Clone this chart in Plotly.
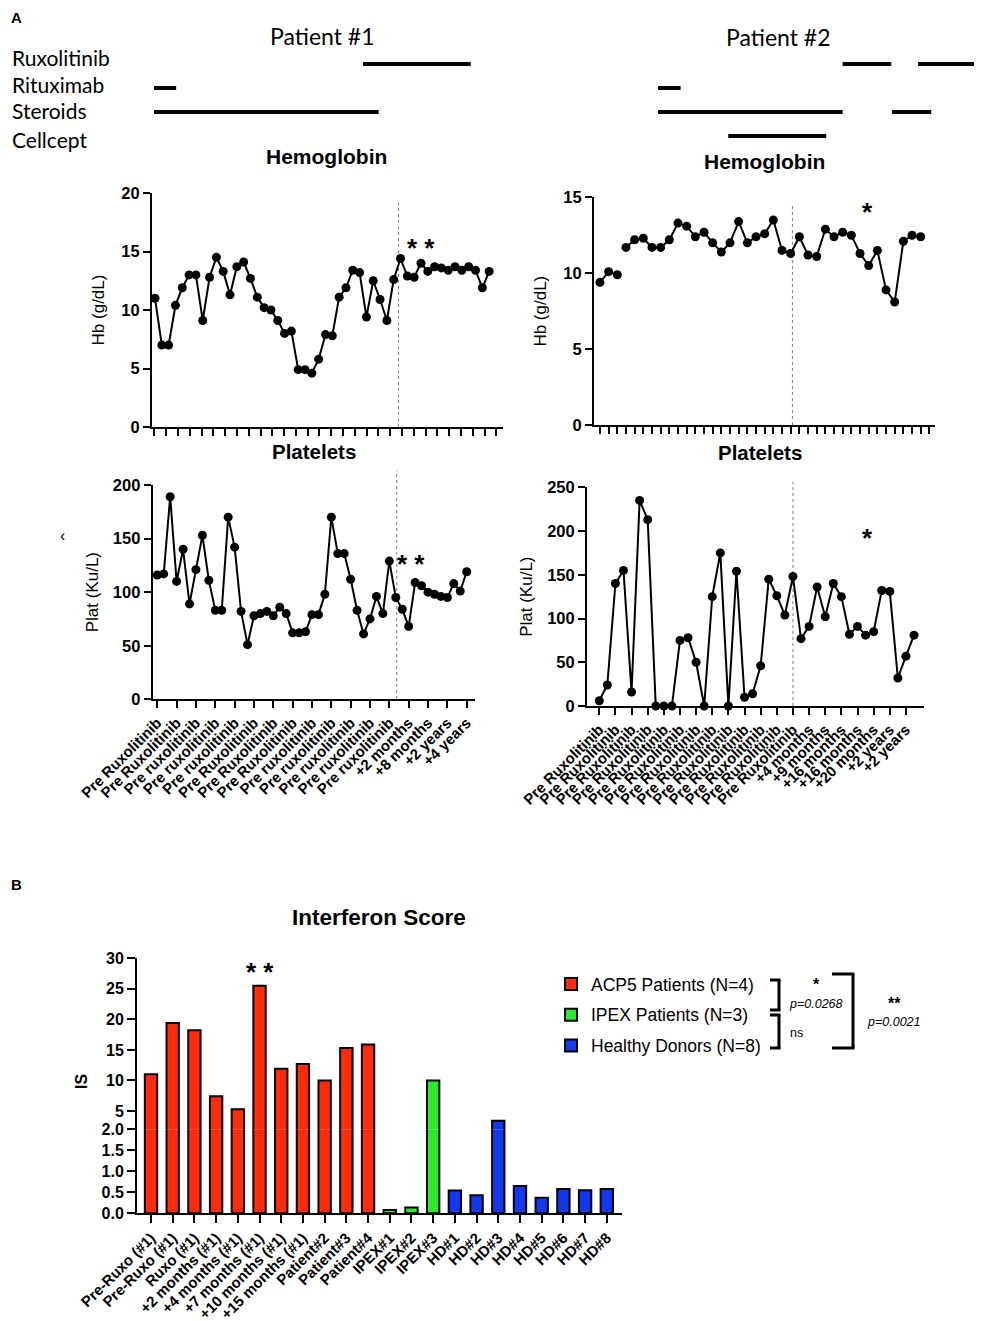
import plotly.graph_objects as go

# ---------------- data ----------------
treatments = ["Cellcept", "Steroids", "Rituximab", "Ruxolitinib"]

# treatment periods, in visit-index units of each patient's haemoglobin chart
p1_treat_drug = ["Ruxolitinib", "Rituximab", "Steroids"]
p1_treat_start = [30.5, -0.15, -0.15]
p1_treat_end = [46.3, 3.1, 32.8]

p2_treat_drug = ["Ruxolitinib", "Ruxolitinib", "Rituximab", "Steroids", "Steroids", "Cellcept"]
p2_treat_start = [28.0, 36.7, 6.7, 6.7, 33.7, 14.8]
p2_treat_end = [33.6, 44.0, 9.3, 28.0, 38.2, 26.1]

hb_p1 = [11.0, 7.0, 7.0, 10.4, 11.9, 13.0, 13.0, 9.1, 12.8, 14.5,
         13.3, 11.3, 13.7, 14.1, 12.7, 11.1, 10.2, 10.0, 9.1, 8.0,
         8.2, 4.9, 4.9, 4.6, 5.8, 7.9, 7.8, 11.1, 11.9, 13.4,
         13.2, 9.4, 12.5, 10.9, 9.1, 12.6, 14.4, 12.9, 12.8, 14.0,
         13.3, 13.7, 13.6, 13.4, 13.7, 13.4, 13.7, 13.4, 11.9, 13.3]
hb_p1_rux_start = 35.7

plat_p1 = [116, 117, 189, 110, 140, 89, 121, 153, 111, 83,
           83, 170, 142, 82, 51, 78, 80, 82, 78, 86,
           80, 62, 62, 63, 79, 79, 98, 170, 136, 136,
           112, 83, 61, 75, 96, 80, 129, 95, 84, 68,
           109, 106, 100, 98, 96, 95, 108, 101, 119]
plat_p1_rux_start = 37.15
plat_p1_tick_step = 3
plat_p1_labels = ["Pre Ruxolitinib", "Pre Ruxolitinib", "Pre ruxolitinib", "Pre ruxolitinib",
                  "Pre ruxolitinib", "Pre Ruxolitinib", "Pre Ruxolitinib", "Pre Ruxolitinib",
                  "Pre ruxolitinib", "Pre ruxolitinib", "Pre ruxolitinib", "Pre ruxolitinib",
                  "Pre ruxolitinib", "+2 months", "+8 months", "+2 years", "+4 years"]

hb_p2 = [9.4, 10.1, 9.9, 11.7, 12.2, 12.3, 11.7, 11.7, 12.2, 13.3,
         13.1, 12.4, 12.7, 12.0, 11.4, 12.0, 13.4, 12.0, 12.4, 12.6,
         13.5, 11.5, 11.3, 12.4, 11.2, 11.1, 12.9, 12.4, 12.7, 12.5,
         11.3, 10.5, 11.5, 8.9, 8.1, 12.1, 12.5, 12.4]
hb_p2_gap_after = 2
hb_p2_rux_start = 22.2

plat_p2 = [6, 24, 140, 155, 16, 235, 213, 0, 0, 0,
           75, 78, 50, 0, 125, 175, 0, 154, 10, 14,
           46, 145, 126, 104, 148, 77, 91, 136, 102, 140,
           125, 82, 91, 81, 85, 132, 131, 32, 57, 81]
plat_p2_rux_start = 24
plat_p2_tick_step = 2
plat_p2_labels = ["Pre Ruxolitinib"] * 13 + ["+4 months", "+9 months", "+16 months", "+16 months",
                                             "+20 months", "+2 years", "+2 years"]

ifn_labels = ["Pre-Ruxo (#1)", "Pre-Ruxo (#1)", "Ruxo (#1)", "+2 months (#1)", "+4 months (#1)",
              "+7 months (#1)", "+10 months (#1)", "+15 months (#1)", "Patient#2", "Patient#3",
              "Patient#4", "IPEX#1", "IPEX#2", "IPEX#3", "HD#1", "HD#2", "HD#3", "HD#4",
              "HD#5", "HD#6", "HD#7", "HD#8"]
ifn_values = [11.0, 19.4, 18.2, 7.4, 5.3, 25.5, 11.9, 12.7, 10.0, 15.3,
              15.9, 0.08, 0.14, 10.0, 0.54, 0.43, 3.4, 0.65, 0.37, 0.58, 0.55, 0.58]
ifn_group = ["ACP5"] * 11 + ["IPEX"] * 3 + ["HD"] * 8
group_names = {"ACP5": "ACP5 Patients (N=4)", "IPEX": "IPEX Patients (N=3)", "HD": "Healthy Donors (N=8)"}
group_colors = {"ACP5": "#FF2B0A", "IPEX": "#2EE82E", "HD": "#1238F0"}
ifn_break = 2.0

# ---------------- layout helpers ----------------
# the page body has an 8px margin, so the figure is placed 8px in from the top-left corner
OFF = 8
W, H = 982 - OFF, 1321 - OFF
def fx(px): return (px - OFF) / W
def fy(py): return 1 - (py - OFF) / H

AX = dict(showgrid=False, zeroline=False, showline=True, linecolor="black", linewidth=2,
          ticks="outside", tickcolor="black", tickwidth=2, automargin=False)
TF = dict(family="Liberation Sans", size=16.5, color="black", weight="bold")
TITLEF = dict(family="Liberation Sans", size=17, color="black")

fig = go.Figure()

def series(x, y, xa, ya):
    fig.add_trace(go.Scatter(x=x, y=y, xaxis=xa, yaxis=ya, mode="lines+markers",
                             line=dict(color="black", width=2),
                             marker=dict(color="black", size=9),
                             cliponaxis=False, showlegend=False, hoverinfo="skip"))

# Patient 1
series(list(range(len(hb_p1))), hb_p1, "x", "y")
series(list(range(len(plat_p1))), plat_p1, "x2", "y2")
# Patient 2 (haemoglobin line broken after the first visits)
idx2 = list(range(len(hb_p2)))
g = hb_p2_gap_after + 1
series(idx2[:g] + [None] + idx2[g:], hb_p2[:g] + [None] + hb_p2[g:], "x3", "y3")
series(list(range(len(plat_p2))), plat_p2, "x4", "y4")

# treatment timelines
def timeline(drugs, starts, ends, xa, ya):
    xs, ys = [], []
    for d, s, e in zip(drugs, starts, ends):
        xs += [s, e, None]
        ys += [d, d, None]
    fig.add_trace(go.Scatter(x=xs, y=ys, xaxis=xa, yaxis=ya, mode="lines",
                             line=dict(color="black", width=4), showlegend=False,
                             hoverinfo="skip", cliponaxis=False))

timeline(p1_treat_drug, p1_treat_start, p1_treat_end, "x5", "y5")
timeline(p2_treat_drug, p2_treat_start, p2_treat_end, "x6", "y6")

# interferon score bars (broken axis: lower 0-2, upper 2-30)
for grp in ["ACP5", "IPEX", "HD"]:
    xs = [i for i, g2 in enumerate(ifn_group) if g2 == grp]
    ys = [ifn_values[i] for i in xs]
    for ya, show in [("y7", True), ("y8", False)]:
        fig.add_trace(go.Bar(x=xs, y=ys, xaxis="x7", yaxis=ya, width=0.57,
                             marker=dict(color=group_colors[grp], line=dict(color="black", width=2)),
                             name=group_names[grp], legendgroup=grp, showlegend=show,
                             hoverinfo="skip"))

# ---------------- axes ----------------
layout = dict(
    width=W, height=H, margin=dict(l=0, r=0, t=0, b=0), autosize=False,
    plot_bgcolor="white", paper_bgcolor="white", barmode="overlay",
    xaxis=dict(AX, domain=[fx(152), fx(503)], range=[-0.44, 51.03], anchor="y",
               tickmode="linear", tick0=-0.1, dtick=1.73, ticklen=7, showticklabels=False),
    yaxis=dict(AX, domain=[fy(427), fy(193)], range=[0, 20], anchor="x",
               tickvals=[0, 5, 10, 15, 20], ticklen=7, tickfont=TF,
               title=dict(text="Hb (g/dL)", font=TITLEF, standoff=12)),
    xaxis2=dict(AX, domain=[fx(152.7), fx(475)], range=[-0.71, 49.29], anchor="y2",
                tickvals=list(range(0, len(plat_p1), plat_p1_tick_step)), ticktext=plat_p1_labels,
                tickangle=-45, ticklen=7, tickfont=dict(TF, size=15)),
    yaxis2=dict(AX, domain=[fy(699.3), fy(485)], range=[0, 200], anchor="x2",
                tickvals=[0, 50, 100, 150, 200], ticklen=7, tickfont=TF,
                title=dict(text="Plat (Ku/L)", font=TITLEF, standoff=10)),
    xaxis3=dict(AX, domain=[fx(594), fx(935)], range=[-0.69, 38.65], anchor="y3",
                tickmode="linear", tick0=0, dtick=1, ticklen=7, showticklabels=False),
    yaxis3=dict(AX, domain=[fy(425), fy(197.3)], range=[0, 15], anchor="x3",
                tickvals=[0, 5, 10, 15], ticklen=7, tickfont=TF,
                title=dict(text="Hb (g/dL)", font=TITLEF, standoff=12)),
    xaxis4=dict(AX, domain=[fx(587), fx(924)], range=[-1.52, 40.24], anchor="y4",
                tickvals=list(range(0, len(plat_p2), plat_p2_tick_step)), ticktext=plat_p2_labels,
                tickangle=-45, ticklen=7, tickfont=dict(TF, size=15)),
    yaxis4=dict(AX, domain=[fy(706), fy(487.3)], range=[0, 250], anchor="x4",
                tickvals=[0, 50, 100, 150, 200, 250], ticklen=7, tickfont=TF,
                title=dict(text="Plat (Ku/L)", font=TITLEF, standoff=10)),
    xaxis5=dict(domain=[fx(152), fx(503)], range=[-0.44, 51.03], anchor="y5", visible=False),
    yaxis5=dict(domain=[fy(148), fy(52)], range=[-0.5, 3.5], anchor="x5", visible=False,
                type="category", categoryorder="array", categoryarray=treatments),
    xaxis6=dict(domain=[fx(594), fx(982)], range=[-0.69, 44.07], anchor="y6", visible=False),
    yaxis6=dict(domain=[fy(148), fy(52)], range=[-0.5, 3.5], anchor="x6", visible=False,
                type="category", categoryorder="array", categoryarray=treatments),
    xaxis7=dict(AX, domain=[fx(137), fx(622)], range=[-0.645, 21.7], anchor="y7",
                tickvals=list(range(len(ifn_labels))), ticktext=ifn_labels, tickangle=-45,
                ticklen=8, tickfont=dict(TF, size=15)),
    yaxis7=dict(AX, domain=[fy(1213.3), fy(1129.3)], range=[0, ifn_break], anchor="x7",
                tickvals=[0, 0.5, 1.0, 1.5, 2.0], tickformat=".1f", ticklen=8,
                tickfont=dict(TF, size=16)),
    yaxis8=dict(AX, domain=[fy(1129.3), fy(958.3)], range=[ifn_break, 30], anchor="x7",
                tickvals=[5, 10, 15, 20, 25, 30], ticklen=8, tickfont=dict(TF, size=16)),
    legend=dict(x=fx(551), y=fy(966), xanchor="left", yanchor="top",
                font=dict(family="Liberation Sans", size=17.5, color="black"),
                bgcolor="rgba(0,0,0,0)", tracegroupgap=5, traceorder="grouped"),
)
fig.update_layout(**layout)

# rux-start dotted lines
def vline(xa, xval, ytop, ybot):
    fig.add_shape(type="line", xref=xa, yref="paper", x0=xval, x1=xval, y0=fy(ybot), y1=fy(ytop),
                  line=dict(color="#808080", width=1, dash="dot"), layer="below")

vline("x", hb_p1_rux_start, 202, 427)
vline("x2", plat_p1_rux_start, 470, 699)
vline("x3", hb_p2_rux_start, 206, 425)
vline("x4", plat_p2_rux_start, 482, 706)

# significance brackets in legend area
def seg(x0, y0, x1, y1, w=3):
    fig.add_shape(type="line", xref="paper", yref="paper", x0=fx(x0), y0=fy(y0), x1=fx(x1), y1=fy(y1),
                  line=dict(color="black", width=w))

for (top, bot) in [(980, 1010), (1015, 1048)]:
    seg(779, top, 779, bot)
    seg(770, top, 780.5, top)
    seg(770, bot, 780.5, bot)
seg(853, 974, 853, 1048)
seg(832, 974, 854.5, 974)
seg(832, 1048, 854.5, 1048)

# ---------------- text ----------------
def ann(text, px, py, size=15, family="Liberation Sans", xanchor="center", yanchor="middle",
        textangle=0, color="black"):
    fig.add_annotation(text=text, x=fx(px), y=fy(py), xref="paper", yref="paper", showarrow=False,
                       font=dict(family=family, size=size, color=color), xanchor=xanchor,
                       yanchor=yanchor, textangle=textangle)

def dann(text, x, y, xa, ya, size=26):
    fig.add_annotation(text=text, x=x, y=y, xref=xa, yref=ya, showarrow=False,
                       font=dict(family="Liberation Sans", size=size, color="black"))

ann("<b>A</b>", 16, 18, size=15)
ann("<b>B</b>", 16, 884, size=15)
ann("Patient #1", 322, 36, size=23, family="Lato")
ann("Patient #2", 778, 37, size=23, family="Lato")
for name, py in zip(["Ruxolitinib", "Rituximab", "Steroids", "Cellcept"], [57, 84, 111, 139]):
    ann(name, 10, py, size=21, family="Lato", xanchor="left")
ann("<b>Hemoglobin</b>", 326, 156, size=21)
ann("<b>Platelets</b>", 314, 451, size=20.5)
ann("<b>Hemoglobin</b>", 764, 162, size=21)
ann("<b>Platelets</b>", 760, 452, size=20.5)
ann("<b>Interferon Score</b>", 379, 918, size=22.5)
ann("<b>IS</b>", 81, 1082, size=16, textangle=-90)
ann("‹", 62, 535, size=16)

dann("<b>* *</b>", 39.0, 15.3, "x", "y")
dann("<b>* *</b>", 39.4, 126, "x2", "y2")
dann("<b>*</b>", 30.9, 14.0, "x3", "y3")
dann("<b>*</b>", 33.3, 192, "x4", "y4")
dann("<b>* *</b>", 5.0, 27.8, "x7", "y8")

ann("<b>*</b>", 816, 984, size=16)
ann("<i>p=0.0268</i>", 816, 1004, size=12.5)
ann("ns", 788, 1033, size=12.5, xanchor="left")
ann("<b>**</b>", 894, 1003, size=16)
ann("<i>p=0.0021</i>", 893, 1022, size=12.5)

fig.write_html("out.html")
